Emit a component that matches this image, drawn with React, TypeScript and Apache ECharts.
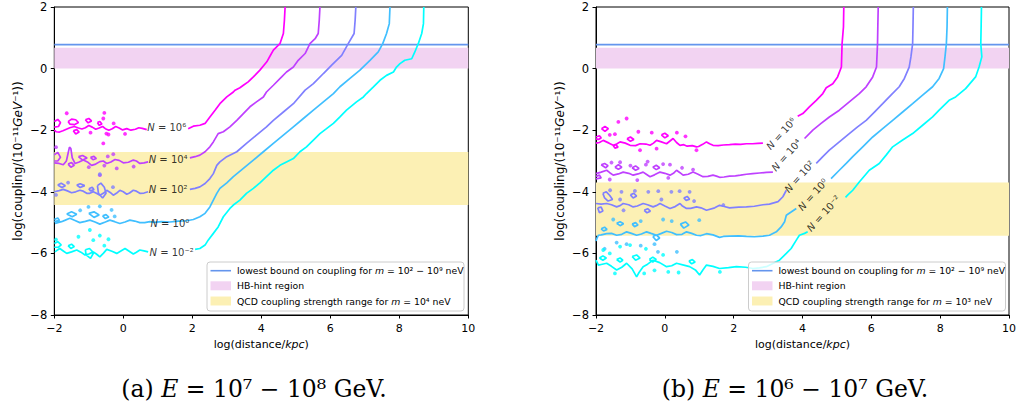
import React, { useEffect, useRef } from 'react';
import * as echarts from 'echarts';

type P = [number, number];

// ---------- shared scalars ----------
const levelLabels = ['10⁶', '10⁴', '10²', '10⁰', '10⁻²'];
const levelColors = ['#ff00ff', '#bf40ff', '#8080ff', '#40bfff', '#00ffff'];
const lowestBound = 0.78;
const hbHint: [number, number] = [0, 0.68];
const qcdA: [number, number] = [-4.43, -2.71];
const qcdB: [number, number] = [-5.43, -3.7];

// ---------- label anchors ----------
const aLabelPos: P[] = [[1.26, -1.91], [1.3, -2.95], [1.3, -3.92], [1.35, -5.03], [1.4, -5.98]];
const bLabelPos: P[] = [[3.38, -2.11], [3.53, -2.81], [3.91, -3.51], [4.3, -4.09], [4.61, -4.7]];

// ---------- panel (a) contours ----------
const aUp6: P[] = [[4.69, 2], [4.67, 1.57], [4.64, 1.14], [4.54, 0.81], [4.35, 0.6], [4.25, 0.4], [4.16, 0.22], [3.96, -0.05], [3.77, -0.27], [3.62, -0.43], [3.48, -0.54], [3.38, -0.62], [3.24, -0.7], [3.19, -0.76], [3.0, -0.92], [2.8, -1.14], [2.66, -1.35], [2.51, -1.57], [2.37, -1.78], [2.22, -1.84], [2.03, -1.87], [1.88, -1.95]];
const aLow6: P[] = [[0.68, -1.98], [0.55, -1.94], [0.45, -1.92], [0.35, -1.97], [0.22, -2.0], [0.1, -1.95], [-0.02, -1.99], [-0.12, -1.93], [-0.22, -1.88], [-0.32, -1.95], [-0.42, -2.0], [-0.52, -1.95], [-0.6, -1.88], [-0.7, -1.93], [-0.8, -1.97], [-0.9, -1.9], [-1.0, -1.85], [-1.1, -1.92], [-1.2, -1.96], [-1.3, -1.93], [-1.42, -1.88], [-1.55, -1.92], [-1.65, -1.97], [-1.75, -2.02], [-1.85, -2.06], [-1.95, -2.05], [-2.0, -2.0]];
const aIsl6: P[][] = [
  [[-2, -1.72], [-1.9, -1.65], [-1.82, -1.75], [-1.88, -1.88], [-2, -1.9]],
  [[-1.6, -1.72], [-1.5, -1.64], [-1.38, -1.66], [-1.3, -1.75], [-1.42, -1.82], [-1.55, -1.8], [-1.6, -1.72]],
  [[-1.1, -1.66], [-1.0, -1.62], [-0.92, -1.7], [-1.02, -1.76], [-1.1, -1.66]],
  [[-1.45, -2.02], [-1.35, -1.98], [-1.28, -2.06], [-1.38, -2.12], [-1.45, -2.02]],
  [[-0.75, -1.75], [-0.68, -1.72], [-0.62, -1.8], [-0.7, -1.84], [-0.75, -1.75]],
];
const aDot6: P[] = [[-1.64, -1.45], [-0.55, -1.44], [-0.43, -2.14], [-0.95, -2.08], [-0.28, -1.78], [-0.58, -1.62], [-0.49, -2.11], [0.05, -2.12], [-0.58, -2.43]];

const aUp4: P[] = [[5.7, 2], [5.68, 1.57], [5.65, 1.14], [5.56, 0.97], [5.41, 0.81], [5.27, 0.49], [5.07, 0.27], [4.93, 0.05], [4.73, -0.11], [4.59, -0.27], [4.35, -0.54], [4.15, -0.76], [4.06, -0.92], [3.86, -1.08], [3.67, -1.24], [3.48, -1.46], [3.29, -1.68], [3.09, -1.89], [2.9, -2.05], [2.75, -2.11], [2.61, -2.38], [2.51, -2.54], [2.37, -2.7], [2.22, -2.81], [2.08, -2.86], [1.93, -2.9]];
const aLow4: P[] = [[0.72, -3.03], [0.6, -3.06], [0.48, -3.08], [0.38, -3.0], [0.29, -2.97], [0.15, -3.04], [0.0, -3.06], [-0.12, -2.98], [-0.24, -2.95], [-0.36, -3.03], [-0.48, -3.08], [-0.58, -3.0], [-0.68, -3.02], [-0.8, -3.1], [-0.92, -3.14], [-1.04, -3.03], [-1.16, -2.97], [-1.28, -3.03], [-1.4, -3.08], [-1.48, -2.9], [-1.52, -2.6], [-1.56, -2.55], [-1.6, -2.75], [-1.65, -3.0], [-1.74, -3.12], [-1.86, -3.08], [-2.0, -3.06]];
const aIsl4: P[][] = [
  [[-2, -2.8], [-1.9, -2.72], [-1.82, -2.88], [-1.9, -3.0], [-2, -3.0]],
  [[-1.3, -2.86], [-1.18, -2.82], [-1.05, -2.9], [-1.18, -2.97], [-1.3, -2.86]],
  [[-0.95, -2.88], [-0.85, -2.85], [-0.78, -2.92], [-0.88, -2.96], [-0.95, -2.88]],
  [[-1.6, -3.1], [-1.5, -3.05], [-1.42, -3.14], [-1.52, -3.2], [-1.6, -3.1]],
];
const aDot4: P[] = [[-0.68, -3.46], [-0.29, -2.78], [-0.19, -3.24], [-0.55, -3.15], [-1.0, -3.2], [-1.95, -2.55], [0.3, -3.18], [-0.45, -2.85]];

const aUp2: P[] = [[6.74, 2], [6.72, 1.57], [6.69, 1.14], [6.52, 0.81], [6.33, 0.43], [6.04, 0.11], [5.8, -0.16], [5.51, -0.49], [5.27, -0.7], [4.93, -1.14], [4.64, -1.41], [4.35, -1.68], [4.15, -1.89], [3.86, -2.16], [3.57, -2.43], [3.29, -2.7], [3.0, -2.86], [2.8, -3.03], [2.71, -3.14], [2.61, -3.41], [2.51, -3.57], [2.37, -3.73], [2.22, -3.84], [2.08, -3.89], [1.93, -3.92]];
const aLow2: P[] = [[0.72, -4.0], [0.6, -4.04], [0.48, -4.05], [0.38, -3.98], [0.29, -3.95], [0.18, -4.04], [0.1, -4.08], [0.0, -4.0], [-0.1, -3.95], [-0.2, -4.05], [-0.29, -4.11], [-0.38, -4.02], [-0.48, -3.95], [-0.58, -4.05], [-0.68, -4.11], [-0.78, -4.05], [-0.87, -4.0], [-0.97, -4.05], [-1.06, -4.05], [-1.16, -3.98], [-1.26, -3.95], [-1.38, -4.0], [-1.5, -4.03], [-1.62, -3.97], [-1.74, -3.92], [-1.86, -3.96], [-2.0, -4.0]];
const aIsl2: P[][] = [
  [[-1.9, -3.78], [-1.8, -3.72], [-1.68, -3.8], [-1.78, -3.86], [-1.9, -3.78]],
  [[-1.35, -3.78], [-1.25, -3.74], [-1.12, -3.8], [-1.25, -3.86], [-1.35, -3.78]],
  [[-0.75, -3.8], [-0.65, -3.72], [-0.55, -3.85], [-0.5, -4.05], [-0.6, -4.2], [-0.72, -4.05], [-0.75, -3.8]],
  [[-1.0, -3.9], [-0.9, -3.85], [-0.85, -3.93], [-0.95, -3.97], [-1.0, -3.9]],
];
const aDot2: P[] = [[-0.68, -3.43], [-1.6, -3.7], [-0.3, -3.85], [-1.95, -4.1]];

const aUp0: P[] = [[7.73, 2], [7.71, 1.46], [7.63, 1.14], [7.52, 0.81], [7.39, 0.54], [7.15, 0.27], [6.86, -0.05], [6.57, -0.32], [6.28, -0.59], [6.09, -0.81], [5.8, -1.08], [5.51, -1.35], [5.22, -1.62], [4.93, -1.89], [4.64, -2.16], [4.35, -2.43], [4.06, -2.7], [3.77, -2.97], [3.48, -3.24], [3.19, -3.51], [3.0, -3.71], [2.8, -3.89], [2.71, -4.05], [2.61, -4.27], [2.51, -4.49], [2.37, -4.7], [2.22, -4.81], [2.03, -4.9], [1.84, -4.94], [1.6, -4.95], [1.35, -4.98], [1.1, -4.97], [0.9, -4.99]];
const aLow0: P[] = [[0.9, -4.99], [0.77, -4.97], [0.62, -5.0], [0.48, -5.0], [0.33, -4.95], [0.19, -4.92], [0.05, -4.98], [-0.1, -5.03], [-0.25, -4.97], [-0.39, -4.92], [-0.52, -4.98], [-0.68, -5.05], [-0.82, -4.98], [-0.97, -4.92], [-1.1, -4.96], [-1.26, -5.0], [-1.4, -4.93], [-1.55, -4.86], [-1.68, -4.92], [-1.79, -4.97], [-1.9, -5.0], [-1.98, -5.03]];
const aIsl0: P[][] = [
  [[-1.64, -4.72], [-1.5, -4.65], [-1.35, -4.73], [-1.48, -4.81], [-1.64, -4.72]],
  [[-1.0, -4.7], [-0.85, -4.65], [-0.7, -4.75], [-0.85, -4.83], [-1.0, -4.7]],
  [[-0.6, -4.78], [-0.5, -4.74], [-0.42, -4.82], [-0.52, -4.87], [-0.6, -4.78]],
  [[-2, -4.9], [-1.9, -4.85], [-1.85, -4.93], [-2, -4.97]],
];
const aDot0: P[] = [[-1.01, -4.49], [-0.68, -4.47], [-0.34, -4.59], [-0.25, -4.8], [-1.25, -4.6]];

const aUpM2: P[] = [[8.71, 2], [8.7, 1.46], [8.65, 1.14], [8.55, 0.81], [8.45, 0.54], [8.36, 0.32], [8.16, 0.27], [8.02, 0.16], [7.92, 0.05], [7.83, -0.11], [7.63, -0.22], [7.44, -0.38], [7.25, -0.59], [7.05, -0.81], [6.96, -0.92], [6.76, -1.08], [6.47, -1.35], [6.28, -1.57], [6.09, -1.78], [5.89, -1.95], [5.7, -2.11], [5.51, -2.32], [5.31, -2.54], [5.12, -2.7], [4.93, -2.92], [4.73, -3.03], [4.54, -3.14], [4.35, -3.3], [4.15, -3.51], [3.96, -3.71], [3.77, -3.89], [3.57, -4.05], [3.38, -4.27], [3.19, -4.43], [3.09, -4.54], [2.9, -4.81], [2.75, -5.14], [2.61, -5.35], [2.46, -5.57], [2.37, -5.73], [2.22, -5.84], [2.08, -5.87]];
const aLowM2: P[] = [[0.72, -5.95], [0.6, -5.92], [0.48, -5.89], [0.38, -5.96], [0.29, -6.02], [0.17, -5.93], [0.05, -5.84], [-0.07, -5.92], [-0.19, -6.0], [-0.33, -5.93], [-0.48, -5.87], [-0.58, -6.0], [-0.68, -6.11], [-0.78, -6.02], [-0.87, -5.95], [-1.0, -6.02], [-1.11, -6.05], [-1.23, -5.96], [-1.35, -5.89], [-1.5, -5.95], [-1.64, -6.0], [-1.74, -5.92], [-1.84, -5.84], [-1.92, -5.9], [-1.98, -5.95]];
const aIslM2: P[][] = [
  [[-2, -5.68], [-1.9, -5.62], [-1.8, -5.72], [-1.88, -5.8], [-2, -5.8]],
  [[-1.1, -5.88], [-0.98, -5.84], [-0.86, -5.98], [-0.95, -6.16], [-1.08, -6.05], [-1.1, -5.88]],
  [[-1.6, -5.75], [-1.5, -5.7], [-1.42, -5.78], [-1.52, -5.84], [-1.6, -5.75]],
];
const aDotM2: P[] = [[-0.97, -5.24], [-1.3, -5.46], [-0.87, -5.57], [-0.43, -5.54], [-0.68, -5.42], [-1.95, -5.55], [-0.55, -5.75]];

// ---------- panel (b) contours ----------
const bUp6: P[] = [[5.2, 2], [5.19, 1.35], [5.15, 0.81], [5.13, 0.05], [5.02, -0.27], [4.88, -0.49], [4.69, -0.62], [4.59, -0.81], [4.4, -1.03], [4.2, -1.24], [4.01, -1.46], [3.86, -1.55]];
const bLow6: P[] = [[2.85, -2.42], [2.7, -2.43], [2.55, -2.44], [2.37, -2.44], [2.2, -2.46], [2.05, -2.45], [1.88, -2.47], [1.7, -2.48], [1.55, -2.5], [1.4, -2.49], [1.3, -2.44], [1.21, -2.38], [1.1, -2.46], [0.98, -2.53], [0.92, -2.54], [0.8, -2.5], [0.65, -2.52], [0.55, -2.47], [0.44, -2.49], [0.34, -2.4], [0.24, -2.27], [0.15, -2.35], [0.05, -2.44], [-0.1, -2.38], [-0.24, -2.33], [-0.33, -2.42], [-0.43, -2.49], [-0.55, -2.45], [-0.72, -2.44], [-0.85, -2.5], [-1.01, -2.49], [-1.15, -2.42], [-1.3, -2.38], [-1.4, -2.45], [-1.5, -2.49], [-1.62, -2.42], [-1.79, -2.33], [-1.9, -2.4], [-2.0, -2.42]];
const bIsl6: P[][] = [
  [[-2, -2.22], [-1.9, -2.18], [-1.85, -2.25], [-1.93, -2.3], [-2, -2.28]],
  [[-1.84, -1.95], [-1.74, -1.88], [-1.64, -1.95], [-1.74, -2.04], [-1.84, -1.95]],
  [[-1.1, -2.28], [-1.0, -2.22], [-0.9, -2.3], [-1.0, -2.36], [-1.1, -2.28]],
  [[-0.1, -2.15], [0.0, -2.1], [0.1, -2.18], [0.0, -2.25], [-0.1, -2.15]],
  [[-1.5, -2.5], [-1.42, -2.47], [-1.36, -2.55], [-1.45, -2.58], [-1.5, -2.5]],
];
const bDot6: P[] = [[-1.45, -2.13], [-1.35, -1.73], [-1.11, -1.62], [-0.77, -2.05], [-0.38, -2.08], [-0.72, -2.65], [-0.24, -2.6], [0.92, -2.65], [-1.6, -2.15], [0.35, -2.08], [0.6, -2.2]];

const bUp4: P[] = [[6.2, 2], [6.19, 1.46], [6.18, 0.81], [6.15, 0.05], [6.04, -0.27], [5.85, -0.59], [5.65, -0.81], [5.36, -1.08], [5.07, -1.35], [4.78, -1.57], [4.54, -1.78], [4.3, -2.0], [4.06, -2.27]];
const bLow4: P[] = [[3.14, -3.36], [2.95, -3.37], [2.75, -3.39], [2.55, -3.41], [2.37, -3.43], [2.2, -3.46], [2.05, -3.48], [1.88, -3.49], [1.72, -3.52], [1.59, -3.53], [1.5, -3.49], [1.4, -3.46], [1.25, -3.5], [1.11, -3.51], [0.95, -3.42], [0.82, -3.36], [0.68, -3.43], [0.53, -3.46], [0.44, -3.38], [0.34, -3.3], [0.25, -3.4], [0.15, -3.46], [0.0, -3.4], [-0.14, -3.36], [-0.3, -3.45], [-0.43, -3.51], [-0.55, -3.42], [-0.63, -3.36], [-0.78, -3.42], [-0.92, -3.46], [-1.05, -3.4], [-1.21, -3.36], [-1.35, -3.42], [-1.5, -3.46], [-1.6, -3.38], [-1.69, -3.3], [-1.85, -3.36], [-2.0, -3.41]];
const bIsl4: P[][] = [
  [[-1.85, -3.12], [-1.75, -3.08], [-1.65, -3.15], [-1.72, -3.22], [-1.85, -3.12]],
  [[-1.45, -3.2], [-1.35, -3.12], [-1.25, -3.2], [-1.35, -3.27], [-1.45, -3.2]],
  [[-0.95, -3.22], [-0.85, -3.16], [-0.75, -3.24], [-0.85, -3.3], [-0.95, -3.22]],
  [[-0.35, -3.2], [-0.25, -3.14], [-0.15, -3.22], [-0.25, -3.28], [-0.35, -3.2]],
  [[-2, -3.5], [-1.9, -3.46], [-1.85, -3.55], [-2, -3.58]],
];
const bDot4: P[] = [[-1.3, -3.04], [-1.0, -3.15], [-0.55, -3.12], [-0.05, -3.1], [0.15, -3.12], [0.5, -3.22], [0.82, -3.28], [-0.8, -3.62], [-1.55, -3.05], [-1.6, -3.6], [0.1, -3.55], [-0.5, -3.02]];

const bUp2: P[] = [[7.22, 2], [7.21, 1.35], [7.2, 0.81], [7.15, 0.38], [7.1, 0.05], [6.96, -0.32], [6.81, -0.59], [6.57, -0.86], [6.33, -1.14], [6.09, -1.41], [5.85, -1.68], [5.6, -1.89], [5.36, -2.11], [5.07, -2.38], [4.78, -2.65], [4.59, -2.86], [4.4, -3.08]];
const bLow2: P[] = [[3.53, -3.95], [3.43, -4.16], [3.29, -4.32], [3.04, -4.4], [2.85, -4.42], [2.6, -4.47], [2.37, -4.49], [2.15, -4.5], [1.88, -4.52], [1.7, -4.47], [1.59, -4.44], [1.45, -4.52], [1.21, -4.6], [1.05, -4.52], [0.92, -4.49], [0.75, -4.54], [0.63, -4.54], [0.5, -4.45], [0.44, -4.38], [0.3, -4.48], [0.15, -4.54], [0.0, -4.46], [-0.14, -4.38], [-0.25, -4.45], [-0.34, -4.49], [-0.5, -4.42], [-0.63, -4.38], [-0.8, -4.46], [-0.92, -4.49], [-1.05, -4.42], [-1.21, -4.38], [-1.3, -4.45], [-1.4, -4.49], [-1.55, -4.42], [-1.69, -4.38], [-1.85, -4.4], [-2.0, -4.38]];
const bIsl2: P[][] = [
  [[-1.8, -4.05], [-1.7, -4.0], [-1.6, -4.12], [-1.52, -4.25], [-1.65, -4.3], [-1.75, -4.2], [-1.8, -4.05]],
  [[-1.95, -4.52], [-1.85, -4.5], [-1.8, -4.62], [-1.9, -4.68], [-1.95, -4.52]],
  [[-1.0, -4.1], [-0.9, -4.05], [-0.82, -4.14], [-0.92, -4.2], [-1.0, -4.1]],
  [[-0.6, -4.6], [-0.5, -4.55], [-0.42, -4.63], [-0.52, -4.68], [-0.6, -4.6]],
  [[0.55, -4.2], [0.65, -4.15], [0.72, -4.24], [0.62, -4.28], [0.55, -4.2]],
];
const bDot2: P[] = [[-1.59, -3.95], [-1.26, -4.0], [-0.87, -3.97], [-0.48, -4.0], [-0.19, -3.98], [0.19, -4.0], [0.43, -3.98], [0.72, -4.0], [-1.3, -4.25], [1.7, -4.43], [-0.1, -4.25], [0.85, -4.3], [-1.2, -4.6]];

const bUp0: P[] = [[8.21, 2], [8.2, 1.35], [8.18, 0.81], [8.14, 0.38], [8.1, 0.0], [7.97, -0.32], [7.78, -0.59], [7.49, -0.86], [7.2, -1.14], [6.91, -1.41], [6.62, -1.68], [6.33, -1.95], [6.04, -2.22], [5.75, -2.54], [5.46, -2.86], [5.27, -3.08], [5.07, -3.3], [4.83, -3.57]];
const bLow0: P[] = [[3.82, -4.54], [3.68, -4.65], [3.53, -4.76], [3.48, -4.97], [3.38, -5.14], [3.24, -5.3], [3.04, -5.41], [2.85, -5.44], [2.6, -5.46], [2.37, -5.45], [2.15, -5.43], [1.88, -5.44], [1.7, -5.45], [1.59, -5.48], [1.4, -5.4], [1.21, -5.36], [1.05, -5.42], [0.92, -5.41], [0.78, -5.35], [0.63, -5.3], [0.5, -5.38], [0.34, -5.39], [0.2, -5.32], [0.05, -5.28], [-0.1, -5.35], [-0.24, -5.41], [-0.4, -5.35], [-0.53, -5.3], [-0.68, -5.37], [-0.82, -5.41], [-0.97, -5.35], [-1.11, -5.3], [-1.25, -5.38], [-1.4, -5.41], [-1.55, -5.35], [-1.69, -5.36], [-1.85, -5.4], [-1.93, -5.41], [-1.97, -5.5], [-2.0, -5.6]];
const bIsl0: P[][] = [
  [[-1.4, -5.02], [-1.3, -4.97], [-1.2, -5.04], [-1.3, -5.1], [-1.4, -5.02]],
  [[-0.35, -5.45], [-0.25, -5.4], [-0.15, -5.5], [-0.25, -5.58], [-0.35, -5.45]],
  [[0.45, -5.05], [0.6, -4.98], [0.7, -5.08], [0.55, -5.18], [0.45, -5.05]],
  [[-1.85, -5.2], [-1.75, -5.15], [-1.68, -5.22], [-1.78, -5.27], [-1.85, -5.2]],
  [[-0.95, -5.05], [-0.85, -5.0], [-0.78, -5.08], [-0.88, -5.13], [-0.95, -5.05]],
];
const bDot0: P[] = [[-1.5, -4.9], [-0.7, -4.95], [0.2, -4.95], [-1.11, -5.7], [-0.7, -5.75], [-0.2, -5.95], [0.35, -5.95], [-1.75, -5.85], [-1.4, -5.65], [-0.3, -5.7], [-0.05, -4.9], [1.0, -4.92]];

const bUpM2: P[] = [[9.2, 2], [9.19, 1.35], [9.18, 0.81], [9.21, 0.38], [9.13, 0.05], [9.03, -0.27], [8.74, -0.65], [8.45, -0.92], [8.26, -1.03], [7.97, -1.35], [7.78, -1.57], [7.49, -1.84], [7.2, -2.11], [6.91, -2.32], [6.62, -2.54], [6.43, -2.81], [6.23, -3.08], [5.94, -3.3], [5.65, -3.68], [5.46, -3.95], [5.31, -4.11], [5.25, -4.18]];
const bLowM2: P[] = [[4.15, -5.3], [4.06, -5.35], [3.91, -5.41], [3.82, -5.57], [3.67, -5.84], [3.53, -6.0], [3.33, -6.22], [3.24, -6.27], [2.95, -6.43], [2.75, -6.47], [2.56, -6.49], [2.35, -6.45], [2.08, -6.43], [1.85, -6.46], [1.59, -6.49], [1.4, -6.42], [1.21, -6.38], [1.1, -6.55], [1.01, -6.7], [0.9, -6.55], [0.72, -6.43], [0.55, -6.38], [0.34, -6.32], [0.2, -6.4], [0.05, -6.43], [-0.15, -6.3], [-0.34, -6.22], [-0.5, -6.35], [-0.63, -6.43], [-0.75, -6.62], [-0.82, -6.76], [-0.95, -6.5], [-1.11, -6.32], [-1.25, -6.45], [-1.4, -6.54], [-1.55, -6.42], [-1.69, -6.32], [-1.85, -6.36], [-1.93, -6.38], [-2.0, -6.22]];
const bIslM2: P[][] = [
  [[-1.9, -6.15], [-1.8, -6.08], [-1.7, -6.15], [-1.8, -6.22], [-1.9, -6.15]],
  [[-0.95, -6.1], [-0.82, -6.05], [-0.72, -6.15], [-0.85, -6.22], [-0.95, -6.1]],
  [[-0.45, -6.2], [-0.35, -6.12], [-0.25, -6.2], [-0.35, -6.28], [-0.45, -6.2]],
  [[-1.4, -6.2], [-1.3, -6.15], [-1.22, -6.22], [-1.3, -6.28], [-1.4, -6.2]],
  [[0.7, -6.25], [0.8, -6.2], [0.88, -6.28], [0.78, -6.34], [0.7, -6.25]],
];
const bDotM2: P[] = [[-1.79, -5.89], [-1.3, -5.78], [-1.01, -5.73], [-0.55, -5.85], [-1.45, -6.65], [-0.6, -6.65], [-0.3, -6.55], [0.1, -6.6], [0.4, -6.62], [1.6, -6.6], [-1.6, -6.0], [-0.05, -6.05]];

const aUpper = [aUp6, aUp4, aUp2, aUp0, aUpM2];
const aLower = [aLow6, aLow4, aLow2, aLow0, aLowM2];
const aIslands = [aIsl6, aIsl4, aIsl2, aIsl0, aIslM2];
const aDots = [aDot6, aDot4, aDot2, aDot0, aDotM2];
const bUpper = [bUp6, bUp4, bUp2, bUp0, bUpM2];
const bLower = [bLow6, bLow4, bLow2, bLow0, bLowM2];
const bIslands = [bIsl6, bIsl4, bIsl2, bIsl0, bIslM2];
const bDots = [bDot6, bDot4, bDot2, bDot0, bDotM2];

const legendTexts = [
  ['{a|lowest bound on coupling for }{i|m}{a| = 10² − 10⁹ neV}', '{a|HB-hint region}', '{a|QCD coupling strength range for }{i|m}{a| = 10⁴ neV}'],
  ['{a|lowest bound on coupling for }{i|m}{a| = 10² − 10⁹ neV}', '{a|HB-hint region}', '{a|QCD coupling strength range for }{i|m}{a| = 10³ neV}'],
];
const captions = ['{r|(a) }{e|E}{r| = 10⁷ − 10⁸ GeV.}', '{r|(b) }{e|E}{r| = 10⁶ − 10⁷ GeV.}'];

const FONT = 'DejaVu Sans';
const BLUE = '#6495ed';
const PINK = '#f2d3f2';
const YELLOW = '#fcf0b4';

function joinSegs(segs: P[][]): (P | null)[] {
  const out: (P | null)[] = [];
  segs.forEach((s, k) => {
    if (k > 0) out.push(null);
    s.forEach((p) => out.push(p));
  });
  return out;
}

const minusFmt = (v: number) => (v < 0 ? '−' + Math.abs(v) : String(v));

function panelAxes(g: number) {
  const common = {
    gridIndex: g,
    type: 'value' as const,
    axisLine: { show: true, onZero: false, lineStyle: { color: '#000', width: 1 } },
    axisTick: { show: true, inside: false, length: 3.5, lineStyle: { color: '#000', width: 1 } },
    splitLine: { show: false },
  };
  const x = {
    ...common,
    min: -2, max: 10, interval: 2,
    axisLabel: { color: '#000', fontSize: 11, fontFamily: FONT, margin: 8, formatter: minusFmt },
    name: '{a|log(distance/}{i|kpc}{a|)}',
    nameLocation: 'middle' as const,
    nameGap: 23,
    nameTextStyle: {
      rich: {
        a: { fontSize: 11, fontFamily: FONT, color: '#000' },
        i: { fontSize: 11, fontFamily: FONT, fontStyle: 'italic', color: '#000' },
      },
    },
  };
  const y = {
    ...common,
    min: -8, max: 2, interval: 2,
    axisLabel: { color: '#000', fontSize: 11.5, fontFamily: FONT, margin: 7, formatter: minusFmt },
    name: '{a|log(coupling/(10⁻¹¹}{i|GeV}{a|⁻¹))}',
    nameLocation: 'middle' as const,
    nameGap: 30,
    nameTextStyle: {
      rich: {
        a: { fontSize: 12, fontFamily: FONT, color: '#000' },
        i: { fontSize: 12, fontFamily: FONT, fontStyle: 'italic', color: '#000' },
      },
    },
  };
  return { x, y };
}

function panelSeries(g: number, upper: P[][], lower: P[][], islands: P[][][], dots: P[][], labelPos: P[], rot: number, qcd: [number, number]) {
  const series: any[] = [];
  series.push({
    type: 'line', xAxisIndex: g, yAxisIndex: g, z: 2, silent: true, showSymbol: false,
    data: [[-2, lowestBound], [10, lowestBound]],
    lineStyle: { color: BLUE, width: 1.6 },
    markArea: {
      silent: true,
      data: [
        [{ yAxis: hbHint[0], itemStyle: { color: PINK } }, { yAxis: hbHint[1] }],
        [{ yAxis: qcd[0], itemStyle: { color: YELLOW } }, { yAxis: qcd[1] }],
      ],
    },
  });
  for (let i = 0; i < 5; i++) {
    series.push({
      type: 'line', xAxisIndex: g, yAxisIndex: g, z: 3, silent: true, showSymbol: false, connectNulls: false,
      data: joinSegs([upper[i], lower[i], ...islands[i]]),
      lineStyle: { color: levelColors[i], width: 1.7 },
    });
    series.push({
      type: 'scatter', xAxisIndex: g, yAxisIndex: g, z: 3, silent: true,
      symbolSize: 3.8, data: dots[i], itemStyle: { color: levelColors[i] },
    });
  }
  series.push({
    type: 'scatter', xAxisIndex: g, yAxisIndex: g, z: 4, silent: true,
    symbolSize: 1, itemStyle: { color: 'rgba(0,0,0,0)' },
    data: labelPos,
    label: {
      show: true, position: 'inside', rotate: rot,
      formatter: (p: any) => `{i|N}{a| = ${levelLabels[p.dataIndex]}}`,
      rich: {
        a: { fontSize: 10, fontFamily: FONT, color: '#000' },
        i: { fontSize: 10, fontFamily: FONT, fontStyle: 'italic', color: '#000' },
      },
    },
  });
  return series;
}

function legendGraphic(right: number, texts: string[]) {
  const left = right - 257;
  const rich = {
    a: { fontSize: 9.3, fontFamily: FONT, fill: '#000' },
    i: { fontSize: 9.3, fontFamily: FONT, fontStyle: 'italic', fill: '#000' },
  };
  const rows = [270.7, 285.8, 301];
  return [
    { type: 'rect', shape: { x: left, y: 262, width: 257, height: 49, r: 3 }, style: { fill: 'rgba(255,255,255,0.8)', stroke: '#cccccc', lineWidth: 1 }, z: 10 },
    { type: 'line', shape: { x1: left + 3.5, y1: rows[0], x2: left + 24, y2: rows[0] }, style: { stroke: BLUE, lineWidth: 1.6 }, z: 11 },
    { type: 'rect', shape: { x: left + 3.5, y: rows[1] - 4.5, width: 20.5, height: 9 }, style: { fill: PINK }, z: 11 },
    { type: 'rect', shape: { x: left + 3.5, y: rows[2] - 4.5, width: 20.5, height: 9 }, style: { fill: YELLOW }, z: 11 },
    ...texts.map((t, k) => ({
      type: 'text', x: left + 30, y: rows[k], z: 11,
      style: { text: t, rich, verticalAlign: 'middle', align: 'left' },
    })),
  ];
}

export default function App() {
  const ref = useRef<HTMLDivElement>(null);
  useEffect(() => {
    if (!ref.current) return;
    const chart = echarts.init(ref.current, undefined, { renderer: 'svg' });
    const axA = panelAxes(0);
    const axB = panelAxes(1);
    const captionRich = {
      r: { fontSize: 23.5, fontFamily: 'DejaVu Serif', fill: '#000' },
      e: { fontSize: 23.5, fontFamily: 'DejaVu Serif', fontStyle: 'italic', fill: '#000' },
    };
    chart.setOption({
      animation: false,
      backgroundColor: '#fff',
      grid: [
        { left: 54.3, top: 7, width: 414, height: 308, show: true, borderColor: '#000', borderWidth: 1, backgroundColor: 'transparent' },
        { left: 596, top: 7, width: 414, height: 308, show: true, borderColor: '#000', borderWidth: 1, backgroundColor: 'transparent' },
      ],
      xAxis: [axA.x, axB.x],
      yAxis: [axA.y, axB.y],
      series: [
        ...panelSeries(0, aUpper, aLower, aIslands, aDots, aLabelPos, 0, qcdA),
        ...panelSeries(1, bUpper, bLower, bIslands, bDots, bLabelPos, 48, qcdB),
      ],
      graphic: [
        ...legendGraphic(464, legendTexts[0]),
        ...legendGraphic(1005.5, legendTexts[1]),
        { type: 'text', x: 254, y: 389, style: { text: captions[0], rich: captionRich, align: 'center', verticalAlign: 'middle' } },
        { type: 'text', x: 795, y: 389, style: { text: captions[1], rich: captionRich, align: 'center', verticalAlign: 'middle' } },
      ],
    });
    return () => chart.dispose();
  }, []);
  return <div ref={ref} style={{ position: 'fixed', left: 0, top: 0, width: 1019, height: 409, background: '#fff' }} />;
}
